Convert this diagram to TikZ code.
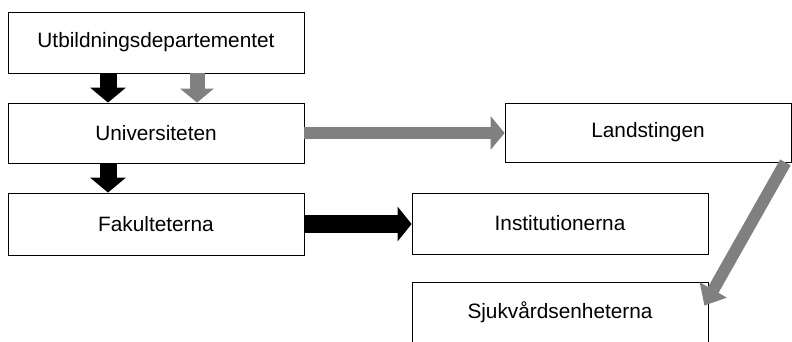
\documentclass[tikz,border=0pt]{standalone}
\usepackage{fontspec}
\setmainfont{Liberation Sans}
\usetikzlibrary{arrows.meta,calc}
\definecolor{arrgray}{HTML}{808080}
\begin{document}
\begin{tikzpicture}[x=1pt,y=-1pt,
  box/.style={draw=black,line width=0.8pt,fill=white,minimum width=296pt,minimum height=61pt,inner sep=0pt,font=\fontsize{20.8}{24}\selectfont},
  blkarrow/.style={draw=black,line width=17pt,-{Triangle[length=15pt,width=35pt]}},
  grayarrow/.style={draw=arrgray,line width=13pt,-{Triangle[length=14pt,width=33pt]}}
]
\useasboundingbox (0,0) rectangle (792,341);
\clip (0,0) rectangle (792,341);
\node[box] (ud) at (156,42.5) {Utbildningsdepartementet};
\node[box,minimum height=60pt] (uni) at (156,133) {Universiteten};
\node[box,minimum height=62pt] (fak) at (156,224) {Fakulteterna};
\node[box,minimum width=286pt,minimum height=59pt] (land) at (648,132.5) {Landstingen};
\node[box] (inst) at (560,223.5) {Institutionerna};
\node[box] (sjuk) at (560,312.5) {Sjukvårdsenheterna};
\draw[blkarrow] ([xshift=-48pt]ud.south) -- ([xshift=-48pt]uni.north);
\draw[grayarrow,line width=15pt] ([xshift=41pt]ud.south) -- ([xshift=41pt]uni.north);
\draw[blkarrow] ([xshift=-48pt]uni.south) -- ([xshift=-48pt]fak.north);
\draw[grayarrow,line width=12pt] (uni.east) -- (uni.east -| land.west);
\draw[blkarrow,line width=18pt,-{Triangle[length=14pt,width=34pt]}] (fak.east) -- (fak.east -| inst.west);
\draw[grayarrow,line width=12pt,-{Triangle[length=18pt,width=30pt]}] ([xshift=-6pt]land.south east) -- ([xshift=-4pt,yshift=-24pt]sjuk.north east);
\end{tikzpicture}
\end{document}
